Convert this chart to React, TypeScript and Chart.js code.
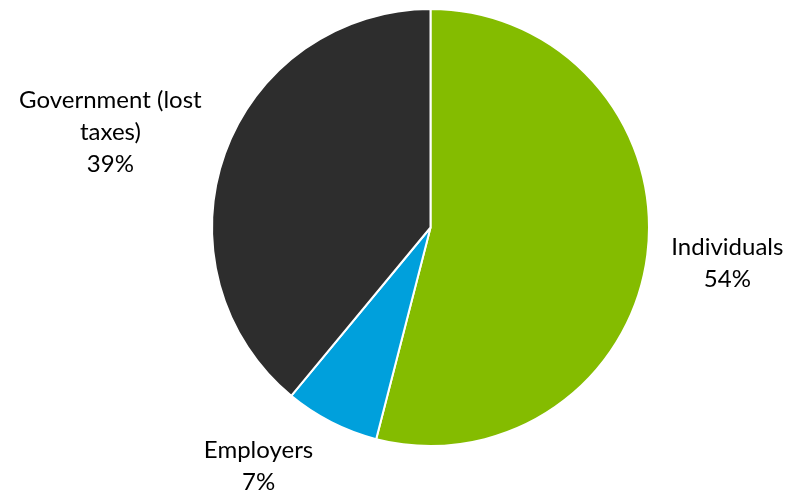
import React, { useEffect, useRef } from "react";
import { Chart, registerables } from "chart.js";

Chart.register(...registerables);

const categories = ["Individuals", "Employers", "Government (lost taxes)"];
const labelLines = [["Individuals"], ["Employers"], ["Government (lost", "taxes)"]];
const shares = [54, 7, 39];
const colors = ["#84BC00", "#00A0DC", "#2D2D2D"];
const labelNudge = [[11, 0], [-44, -12], [-9, 17]];

const FONT = "Lato, 'Open Sans', sans-serif";
const FONT_SIZE = 24;
const LINE_H = 32;

const outsideLabels = {
  id: "outsideLabels",
  afterDraw(chart: any) {
    const ctx = chart.ctx;
    const meta = chart.getDatasetMeta(0);
    const data = chart.data.datasets[0].data as number[];
    const total = data.reduce((a, b) => a + b, 0);
    ctx.save();
    ctx.font = `${FONT_SIZE}px ${FONT}`;
    ctx.fillStyle = "#000";
    ctx.textAlign = "center";
    ctx.textBaseline = "middle";
    meta.data.forEach((arc: any, i: number) => {
      const lines = [...labelLines[i], Math.round((data[i] / total) * 100) + "%"];
      const w = Math.max(...lines.map((l) => ctx.measureText(l).width));
      const h = lines.length * LINE_H;
      const mid = (arc.startAngle + arc.endAngle) / 2;
      const c = Math.cos(mid);
      const s = Math.sin(mid);
      const gap = Math.abs(c) * (w / 2) + Math.abs(s) * (h / 2) + 10;
      const d = arc.outerRadius + gap;
      const cx = arc.x + c * d + labelNudge[i][0];
      const cy = arc.y + s * d + labelNudge[i][1];
      lines.forEach((l, k) => {
        ctx.fillText(l, cx, cy - h / 2 + LINE_H / 2 + k * LINE_H);
      });
    });
    ctx.restore();
  },
};

export default function App() {
  const ref = useRef<HTMLCanvasElement>(null);
  useEffect(() => {
    document.body.style.margin = "0";
    const chart = new Chart(ref.current!, {
      type: "pie",
      data: {
        labels: categories,
        datasets: [
          {
            data: shares,
            backgroundColor: colors,
            borderColor: "#ffffff",
            borderWidth: 2,
          },
        ],
      },
      options: {
        animation: false,
        responsive: false,
        maintainAspectRatio: false,
        layout: { padding: { left: 211, right: 137, top: 8, bottom: 45 } },
        plugins: { legend: { display: false }, tooltip: { enabled: false } },
      },
      plugins: [outsideLabels],
    });
    return () => chart.destroy();
  }, []);
  return <canvas ref={ref} width={787} height={492} style={{ display: "block" }} />;
}
